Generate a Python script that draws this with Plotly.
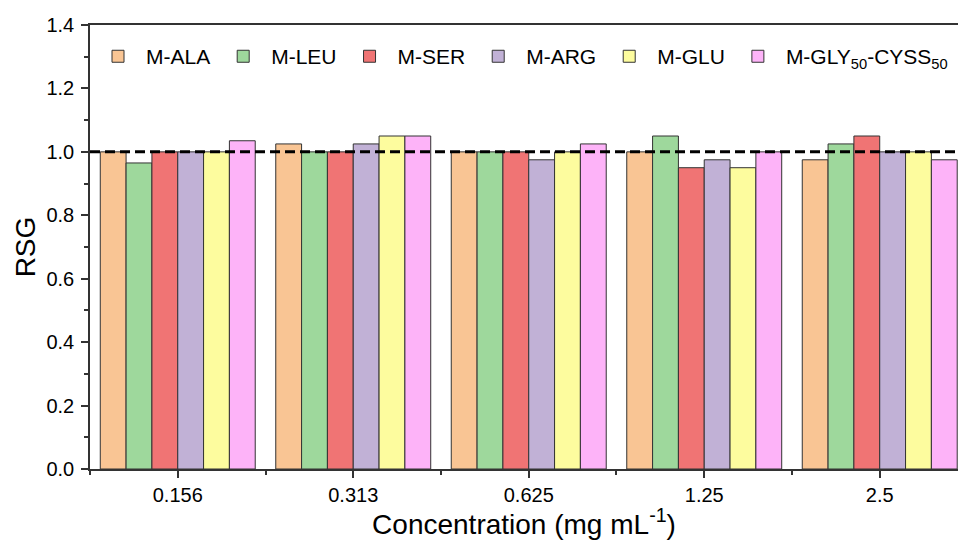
import plotly.graph_objects as go

concentrations = ["0.156", "0.313", "0.625", "1.25", "2.5"]
series_names = ["M-ALA", "M-LEU", "M-SER", "M-ARG", "M-GLU",
                "M-GLY<sub>50</sub>-CYSS<sub>50</sub>"]
m_ala = [1.000, 1.025, 1.000, 1.000, 0.975]
m_leu = [0.965, 1.000, 1.000, 1.050, 1.025]
m_ser = [1.000, 1.000, 1.000, 0.950, 1.050]
m_arg = [1.000, 1.025, 0.975, 0.975, 1.000]
m_glu = [1.000, 1.050, 1.000, 0.950, 1.000]
m_gly_cyss = [1.035, 1.050, 1.025, 1.000, 0.975]
reference_level = 1.0

series_values = [m_ala, m_leu, m_ser, m_arg, m_glu, m_gly_cyss]
colors = ["#F9C594", "#9ED89C", "#F07474", "#C1B1D6", "#FDFC9E", "#FDB3F8"]

FONT = "Arial, 'Liberation Sans', sans-serif"
x_pos = list(range(len(concentrations)))

fig = go.Figure()
for name, vals, col in zip(series_names, series_values, colors):
    fig.add_trace(go.Bar(
        x=x_pos, y=vals, name=name,
        marker=dict(color=col, line=dict(color="#333333", width=1)),
    ))

fig.add_shape(type="line", xref="paper", x0=0, x1=1, yref="y",
              y0=reference_level, y1=reference_level,
              line=dict(color="black", width=3, dash="10px,5px"), layer="above")

fig.update_layout(
    width=958, height=540,
    margin=dict(l=90, r=0, t=25, b=71),
    paper_bgcolor="white", plot_bgcolor="white",
    barmode="group", bargap=0.117, bargroupgap=0,
    font=dict(family=FONT, color="black"),
    legend=dict(orientation="h", x=0.0, xanchor="left", y=0.975, yanchor="top",
                font=dict(size=21, family=FONT), bgcolor="rgba(0,0,0,0)",
                itemwidth=46, traceorder="normal"),
    showlegend=True,
)

fig.update_xaxes(
    range=[-0.5, 4.446], automargin=False,
    tickmode="array", tickvals=x_pos, ticktext=concentrations,
    ticks="outside", ticklen=7, tickwidth=1.5, tickcolor="#333",
    minor=dict(tickmode="array", tickvals=[-0.5, 0.5, 1.5, 2.5, 3.5],
               ticks="outside", ticklen=4, tickwidth=1.5, tickcolor="#333"),
    showline=True, linecolor="#333", linewidth=1.5, mirror=True,
    showgrid=False, zeroline=False,
    tickfont=dict(size=20, family=FONT),
    title=dict(text="Concentration (mg mL<sup>-1</sup>)",
               font=dict(size=28, family=FONT), standoff=10),
)
fig.update_yaxes(
    range=[0, 1.4], dtick=0.2, tickformat=".1f", automargin=False,
    ticks="outside", ticklen=7, tickwidth=1.5, tickcolor="#333",
    ticklabelstandoff=3,
    minor=dict(dtick=0.1, ticks="outside", ticklen=4, tickwidth=1.5, tickcolor="#333"),
    showline=True, linecolor="#333", linewidth=1.5, mirror=False,
    showgrid=False, zeroline=False,
    tickfont=dict(size=20, family=FONT),
    title=dict(text="RSG", font=dict(size=28, family=FONT), standoff=3),
)

fig.write_html("out.html", config={"displayModeBar": False},
               post_script="document.body.style.margin='0';")
